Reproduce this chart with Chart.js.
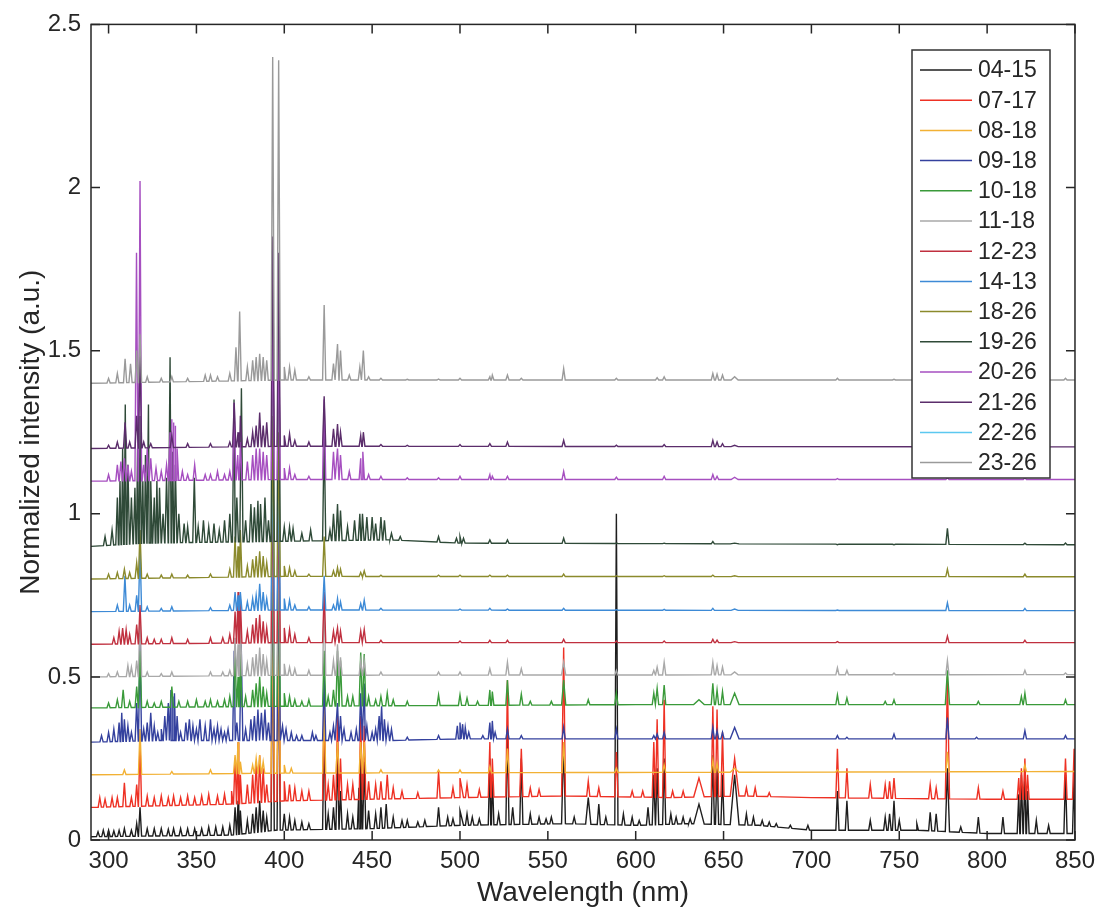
<!DOCTYPE html>
<html>
<head>
<meta charset="utf-8">
<script src="https://cdn.jsdelivr.net/npm/chart.js@4.4.0/dist/chart.umd.min.js"></script>
<style>
  html, body { margin: 0; background: #fff; }
  #wrap { width: 1102px; height: 912px; }
</style>
</head>
<body>
<div id="wrap"><canvas id="chart" width="1102" height="912"></canvas></div>
<script>
// ==============================
// DATA
// baseline points: [wavelength, value]
// peaks: [wavelength, top value, half width (nm, optional)]
// ==============================
const labels = ['04-15','07-17','08-18','09-18','10-18','11-18','12-23','14-13','18-26','19-26','20-26','21-26','22-26','23-26'];
const colors = ['#1e1e1e','#ee3124','#f2b134','#34419e','#3a9a3a','#a9a9a9','#c0303f','#3d8ad6','#8b8a2c','#2f4a38','#a64fc0','#5b2d6b','#5cc8f0','#9a9a9a'];
const xTicks = [300,350,400,450,500,550,600,650,700,750,800,850];
const yTicks = [0,0.5,1,1.5,2,2.5];

const base0415 = [[290,0.01],[370,0.015],[395,0.03],[450,0.035],[500,0.045],[560,0.05],[600,0.045],[630,0.05],[670,0.045],[700,0.03],[760,0.03],[800,0.02],[850,0.02]];
const peaks0415 = [[294,0.025],[297,0.03],[300,0.03],[303,0.028],[306,0.03],[309,0.035],[313,0.03],[316,0.05],[317.9,0.1],[322,0.035],[326,0.035],[330,0.035],[334,0.033],[337,0.035],[341,0.035],[345,0.035],[349,0.035],[353,0.035],[357,0.04],[361,0.04],[365,0.04],[369,0.045],[372,0.1],[373.7,0.12],[375,0.09],[379,0.06],[382,0.08],[384,0.1],[386,0.12],[388,0.09],[390,0.07],[393.4,0.75],[396.8,0.7],[400,0.08],[403,0.07],[406,0.06],[410,0.055],[414,0.05],[422.7,0.36],[425,0.08],[428,0.1],[430.3,0.28],[432,0.15],[436,0.08],[439,0.07],[442.5,0.16],[443.5,0.25],[445.5,0.24],[448,0.09],[452,0.08],[455,0.1],[458,0.11],[462,0.07],[467,0.06],[470,0.06],[476,0.055],[480,0.06],[487.8,0.1],[493,0.07],[496,0.065],[500,0.09,2],[504,0.08],[507,0.07],[511,0.065],[517,0.25],[518.4,0.2],[522,0.08],[527,0.34],[530,0.1],[534.9,0.25],[540,0.08],[545,0.07],[549,0.065],[552,0.07],[559,0.3,1.2],[565,0.07],[573,0.13,1.5],[579,0.11],[583,0.07],[589,1.0],[593,0.08],[598,0.07],[602,0.06],[607,0.1],[610.3,0.2],[612.2,0.22],[616.2,0.25],[620,0.08],[623,0.07],[627,0.07],[631,0.065],[636,0.11,3],[643.9,0.26],[646.3,0.22],[649.4,0.2],[656.3,0.2,2.5],[663,0.08],[667,0.07],[672,0.06],[676,0.055],[680,0.05],[688,0.045],[698,0.045],[714.8,0.15],[720.2,0.12],[733.5,0.06],[742,0.07],[744.5,0.08],[747,0.12],[750,0.06],[760,0.05],[767.6,0.085],[771,0.08],[777.4,0.22,1.2],[785,0.04],[795,0.07],[809,0.07],[818,0.14],[819.5,0.2],[821.5,0.21],[823,0.15],[828,0.06],[835,0.045],[844.6,0.2],[849.5,0.2]];

const base0717 = [[290,0.1],[370,0.11],[400,0.12],[500,0.13],[560,0.135],[620,0.13],[660,0.135],[700,0.13],[800,0.125],[850,0.125]];
const peaks0717 = [[295,0.13],[298,0.125],[302,0.13],[305,0.13],[309,0.175],[313,0.13],[316,0.17],[317.9,0.3],[322,0.135],[326,0.13],[330,0.135],[334,0.13],[337,0.135],[341,0.13],[345,0.135],[349,0.13],[353,0.135],[357,0.14],[362,0.135],[366,0.14],[370,0.15],[372,0.25],[373.7,0.3],[375,0.2],[379,0.17],[382,0.2],[384,0.24],[386,0.26],[388,0.22],[390,0.17],[393.4,0.8],[396.8,0.75],[400,0.18],[403,0.17],[406,0.16],[410,0.15],[414,0.15],[422.7,0.43],[425,0.17],[428,0.2],[430.3,0.38],[432,0.25],[436,0.17],[439,0.17],[443.5,0.38],[445.5,0.35],[448,0.18],[452,0.17],[455,0.18],[458.6,0.2],[462,0.16],[467,0.15],[476,0.145],[487.8,0.21],[496,0.16],[500,0.19,2],[504,0.17],[511,0.155],[517,0.3],[518.4,0.25],[527,0.49],[534.9,0.28],[540,0.16],[545,0.155],[559,0.59,1.2],[573,0.18],[579,0.16],[589,0.27],[598,0.15],[604,0.15],[610.3,0.3],[612.2,0.37],[616.2,0.43],[621,0.15],[627,0.15],[636,0.19,3],[643.9,0.41],[646.3,0.4],[649.4,0.33],[656.3,0.25,2.5],[663,0.16],[668,0.16],[676,0.145],[714.8,0.28],[720.2,0.22],[733.5,0.17],[742,0.17],[744.5,0.18],[747,0.19],[767.6,0.17],[771,0.16],[777.4,0.5,1.2],[795,0.16],[809,0.15],[818,0.19],[819.5,0.22],[821.5,0.25],[823,0.2],[844.6,0.25],[849.5,0.28]];

const base0818 = [[290,0.2],[400,0.205],[850,0.21]];
const peaks0818 = [[309,0.215],[317.9,0.34],[336,0.21],[358,0.215],[372,0.26],[373.7,0.3],[375,0.24],[382,0.23],[384,0.25],[386,0.26],[388,0.24],[393.4,0.7],[396.8,0.65],[400,0.23],[404,0.22],[422.7,0.4],[430.3,0.3],[443.5,0.3],[445.5,0.3],[455,0.215],[487.8,0.215],[500,0.215],[517,0.225],[527,0.28],[559,0.3],[589,0.22],[616.2,0.23],[643.9,0.245],[646.3,0.235],[656.3,0.22,2.5],[714.8,0.215],[777.4,0.27],[821.5,0.23]];

const base0918 = [[290,0.3],[330,0.305],[460,0.305],[500,0.31],[850,0.31]];
const peaks0918 = [[296,0.32],[300,0.33],[303,0.34],[306,0.36],[307.5,0.39],[309,0.37],[311,0.35],[313,0.33],[316,0.42],[317.9,0.6],[320,0.34],[322,0.36],[324,0.39],[326,0.35],[328,0.33],[330,0.34],[332,0.38],[334,0.42],[335.5,0.46],[336.5,0.44],[337.5,0.45],[339,0.38],[341,0.33],[344,0.36],[346,0.37],[348,0.35],[350,0.34],[352,0.37],[355,0.35],[358,0.37],[360,0.34],[362,0.35],[364,0.34],[366,0.33],[368,0.34],[371.5,0.58],[373,0.36],[375.5,0.6],[378,0.34],[381,0.37],[383,0.38],[385,0.4],[387,0.39],[389,0.4],[391,0.36],[393.4,0.95],[396.8,0.9],[399,0.35],[401,0.34],[404,0.33],[407,0.32],[410,0.32],[416,0.33],[418,0.32],[422.7,0.5],[426,0.33],[428,0.35],[430.3,0.42],[432,0.38],[434,0.34],[438,0.33],[441,0.34],[443.5,0.45],[445.5,0.48],[447,0.35],[450,0.33],[452,0.34],[454,0.38],[455.4,0.41],[457,0.37],[459,0.35],[461,0.34],[470,0.315],[487.8,0.32],[498.5,0.35],[500,0.36],[501.5,0.355],[503,0.345],[505,0.33],[513,0.32],[517,0.36],[518.4,0.365],[520,0.33],[527,0.34],[534.9,0.32],[559,0.345],[589,0.34],[610.3,0.32],[612.2,0.325],[616.2,0.33],[643.9,0.345],[646.3,0.335],[649.4,0.33],[656.3,0.345,2.5],[714.8,0.32],[720.2,0.315],[747,0.325],[777.4,0.375],[794,0.315],[821.5,0.335],[844.6,0.32]];

const base1018 = [[290,0.405],[400,0.41],[600,0.415],[850,0.415]];
const peaks1018 = [[300,0.42],[305,0.43],[308.3,0.46],[312,0.425],[316,0.47],[317.9,0.58],[322,0.425],[326,0.42],[330,0.425],[336,0.47],[340,0.425],[345,0.425],[350,0.43],[355,0.425],[358,0.43],[362,0.425],[366,0.43],[369,0.44],[372,0.58],[373.7,0.5],[375,0.57],[378,0.44],[382,0.46],[384,0.48],[386,0.5],[388,0.47],[390,0.45],[393.4,1.0],[396.8,0.95],[400,0.45],[403,0.44],[406,0.43],[410,0.425],[414,0.43],[422.7,0.58],[425,0.44],[428,0.46],[430.3,0.58],[432,0.55],[436,0.44],[439,0.44],[443.5,0.575],[445.5,0.57],[448,0.44],[452,0.43],[455,0.44],[458.6,0.45],[462,0.43],[470,0.425],[487.8,0.445],[500,0.445],[504,0.435],[510,0.425],[517,0.46],[518.4,0.455],[527,0.49],[534.9,0.447],[540,0.425],[552,0.425],[559,0.49,1.2],[573,0.43],[589,0.45],[610.3,0.45],[612.2,0.465],[616.2,0.475],[636,0.43,3],[643.9,0.48],[646.3,0.46],[649.4,0.455],[656.3,0.45,2.5],[714.8,0.445],[720.2,0.435],[742,0.425],[747,0.43],[777.4,0.52,1.2],[795,0.425],[819.5,0.44],[821.5,0.45],[844.6,0.43]];

const base1118 = [[290,0.5],[400,0.505],[850,0.507]];
const peaks1118 = [[300,0.51],[305,0.515],[311,0.535],[313,0.53],[316,0.55],[317.9,0.7],[322,0.515],[330,0.51],[336,0.515],[358,0.515],[365,0.515],[369,0.52],[372,0.62],[373.7,0.6],[375,0.68],[379,0.54],[382,0.56],[384,0.57],[386,0.59],[388,0.57],[390,0.55],[393.4,1.05],[396.8,1.0],[400,0.54],[403,0.53],[406,0.525],[414,0.52],[422.7,0.75],[428,0.55],[430.3,0.6],[432,0.56],[443.5,0.55],[445.5,0.55],[455,0.515],[487.8,0.515],[500,0.515],[517,0.525],[527,0.545],[534.9,0.525],[559,0.545,1.2],[589,0.52],[610.3,0.52],[612.2,0.53],[616.2,0.545],[643.9,0.545],[646.3,0.535],[649.4,0.53],[656.3,0.515,2],[714.8,0.528],[720.2,0.52],[747,0.512],[777.4,0.55],[821.5,0.52],[844.6,0.512]];

const base1223 = [[290,0.6],[400,0.605],[850,0.605]];
const peaks1223 = [[303,0.62],[306,0.64],[308,0.65],[310,0.645],[312,0.63],[316,0.66],[317.9,0.72],[322,0.62],[326,0.615],[330,0.615],[336,0.62],[345,0.615],[358,0.62],[365,0.62],[369,0.63],[372,0.7],[373.7,0.76],[375,0.74],[379,0.64],[382,0.66],[384,0.68],[386,0.69],[388,0.67],[390,0.65],[393.4,1.1],[396.8,1.05],[400,0.65],[403,0.645],[406,0.63],[414,0.62],[422.7,0.76],[428,0.64],[430.3,0.65],[432,0.64],[443.5,0.64],[445.5,0.645],[455,0.612],[500,0.61],[517,0.612],[527,0.612],[559,0.615],[589,0.61],[616.2,0.61],[643.9,0.615],[646.3,0.613],[656.3,0.608,2],[714.8,0.608],[777.4,0.625],[821.5,0.612]];

const base1413 = [[290,0.7],[400,0.705],[850,0.703]];
const peaks1413 = [[305,0.72],[309.3,0.81],[312,0.72],[316,0.75],[317.9,0.9],[322,0.715],[330,0.71],[336,0.715],[358,0.712],[369,0.72],[372,0.76],[373.7,0.75],[375,0.76],[379,0.73],[382,0.74],[384,0.75],[386,0.785],[388,0.76],[390,0.74],[393.4,1.2],[396.8,1.15],[400,0.74],[403,0.735],[406,0.72],[414,0.715],[422.7,0.81],[428,0.72],[430.3,0.74],[432,0.73],[443.5,0.725],[445.5,0.735],[455,0.71],[500,0.708],[517,0.71],[527,0.708],[559,0.71],[589,0.706],[616.2,0.707],[643.9,0.71],[656.3,0.708,2],[714.8,0.705],[777.4,0.727],[821.5,0.71]];

const base1826 = [[290,0.8],[400,0.808],[850,0.807]];
const peaks1826 = [[300,0.815],[305,0.82],[309,0.83],[312,0.82],[316,0.85],[317.9,0.95],[322,0.815],[330,0.812],[336,0.815],[345,0.812],[358,0.815],[369,0.83],[372,0.93],[373.7,0.9],[375,0.95],[379,0.84],[382,0.86],[384,0.87],[386,0.885],[388,0.87],[390,0.85],[393.4,1.3],[396.8,1.25],[400,0.84],[403,0.835],[406,0.825],[414,0.815],[422.7,0.93],[428,0.825],[430.3,0.835],[432,0.83],[443.5,0.82],[445.5,0.825],[455,0.812],[487.8,0.812],[500,0.812],[517,0.812],[527,0.812],[559,0.815],[589,0.81],[616.2,0.81],[643.9,0.812],[656.3,0.81,2],[777.4,0.83],[821.5,0.815]];

const base1926 = [[290,0.9],[320,0.91],[460,0.92],[500,0.91],[850,0.905]];
const peaks1926 = [[298,0.93],[302,0.95],[305,1.05],[306.5,1.1],[308,1.2],[309.5,1.335],[311,1.15],[313,1.05],[315,1.08],[316.5,1.2],[317.9,1.3],[319.5,1.1],[321,1.18],[322.7,1.335],[324,1.1],[326,1.05],[327.5,1.1],[329,1.08],[331,1.0],[333,1.11],[335,1.48],[336.5,1.19],[338,1.15],[340,1.0],[343,0.97],[345,0.96],[348.8,1.11],[351,0.96],[354,0.98],[357,0.96],[360,0.97],[363,0.95],[366,0.98],[369,1.0],[371.4,1.35],[373,1.05],[375.6,1.385],[378,0.98],[381,1.03],[383,1.02],[385,1.04],[386.5,1.03],[389,1.05],[391,0.98],[393.4,1.7],[396.8,1.65],[400,0.96],[403,0.96],[405,0.955],[410,0.94],[415,0.95],[422.7,1.25],[426,0.95],[428,1.0],[430.3,1.03],[432,1.01],[436,0.96],[440,0.98],[443,1.0],[444.5,1.0],[447,0.99],[450,0.99],[452,0.97],[455,0.99],[457,0.98],[461,0.94],[466,0.93],[487.8,0.93],[498,0.925],[500,0.93],[502,0.925],[517,0.92],[527,0.92],[559,0.925],[589,0.91],[616.2,0.91],[643.9,0.915],[656.3,0.91,2.5],[714.8,0.905],[747,0.905],[777.4,0.955],[821.5,0.91],[844.6,0.91]];

const base2026 = [[290,1.1],[400,1.105],[850,1.105]];
const peaks2026 = [[300,1.12],[305,1.15],[307,1.16],[309,1.17],[311,1.15],[313,1.13],[315.9,1.8],[317.9,2.02],[320,1.15],[322,1.2],[324,1.17],[327,1.14],[330,1.13],[333,1.15],[335,1.25],[336,1.29],[337,1.28],[338,1.27],[339,1.2],[342,1.13],[345,1.12],[349,1.15],[355,1.12],[358,1.12],[362,1.13],[366,1.12],[369,1.13],[371.5,1.34],[373.5,1.18],[375,1.22],[379,1.16],[382,1.18],[384,1.2],[386,1.2],[388,1.19],[390,1.18],[393.4,1.6],[396.8,1.55],[400,1.14],[403,1.14],[406,1.12],[414,1.115],[422.7,1.35],[428,1.19],[430.3,1.2],[432,1.18],[437,1.13],[443.5,1.17],[444.7,1.19],[448,1.12],[455,1.115],[470,1.11],[487.8,1.11],[500,1.115],[517,1.12],[518.4,1.115],[527,1.115],[559,1.13],[589,1.112],[616.2,1.115],[643.9,1.12],[646.3,1.115],[656.3,1.112,2],[714.8,1.108],[777.4,1.11],[821.5,1.11]];

const base2126 = [[290,1.2],[400,1.207],[850,1.205]];
const peaks2126 = [[300,1.21],[305,1.22],[309.4,1.28],[312,1.22],[316,1.3],[317.9,1.5],[320,1.22],[324,1.215],[336,1.24],[345,1.215],[358,1.215],[369,1.22],[371.5,1.34],[373.7,1.25],[375,1.3],[379,1.23],[382,1.25],[384,1.27],[386,1.31],[388,1.27],[390,1.28],[393.4,1.85],[396.8,1.8],[400,1.24],[403,1.245],[406,1.225],[414,1.22],[422.7,1.36],[428,1.26],[430.3,1.275],[432,1.25],[443.5,1.24],[445,1.25],[455,1.212],[470,1.21],[500,1.212],[517,1.215],[527,1.22],[559,1.225],[589,1.21],[616.2,1.212],[643.9,1.225],[646.3,1.22],[649.4,1.215],[656.3,1.21,2],[777.4,1.212],[821.5,1.21]];

// 22-26 is in the legend but no trace is visible in the figure
const base2226 = [];
const peaks2226 = [];

const base2326 = [[290,1.4],[400,1.41],[850,1.41]];
const peaks2326 = [[300,1.415],[305,1.43],[309.4,1.475],[312.5,1.46],[316,1.5],[317.9,1.55],[322,1.42],[330,1.415],[336,1.42],[345,1.415],[355,1.425],[358,1.425],[362,1.42],[369,1.43],[372.5,1.51],[374.6,1.62],[379,1.45],[382,1.47],[384,1.48],[386,1.49],[388,1.48],[390,1.47],[393.4,2.4],[396.8,2.39],[400,1.45],[403,1.45],[406,1.44],[414,1.42],[422.7,1.64],[428,1.46],[430.3,1.52],[432,1.5],[437,1.425],[443,1.45],[445,1.5],[448,1.42],[455,1.415],[470,1.412],[487.8,1.413],[500,1.415],[517,1.42],[518.4,1.425],[527,1.425],[534.9,1.415],[559,1.445],[589,1.415],[612.2,1.417],[616.2,1.42],[643.9,1.43],[646.3,1.428],[649.4,1.425],[656.3,1.42,2],[714.8,1.415],[747,1.412],[777.4,1.415],[821.5,1.413],[844.6,1.415]];

const bases = [base0415,base0717,base0818,base0918,base1018,base1118,base1223,base1413,base1826,base1926,base2026,base2126,base2226,base2326];
const peaks = [peaks0415,peaks0717,peaks0818,peaks0918,peaks1018,peaks1118,peaks1223,peaks1413,peaks1826,peaks1926,peaks2026,peaks2126,peaks2226,peaks2326];

// ==============================
// BUILD POINTS (peak apex + feet on the read baseline)
// ==============================
function baseAt(base, w) {
  for (let i = 1; i < base.length; i++) {
    if (w <= base[i][0]) {
      const a = base[i - 1], b = base[i];
      return a[1] + (b[1] - a[1]) * (w - a[0]) / (b[0] - a[0]);
    }
  }
  return base[base.length - 1][1];
}

function buildSeries(base, pk) {
  const pts = base.map(p => ({ x: p[0], y: p[1] }));
  pk.forEach(p => {
    const hw = p[2] || 0.9;
    pts.push({ x: p[0] - hw, y: baseAt(base, p[0] - hw) });
    pts.push({ x: p[0], y: p[1] });
    pts.push({ x: p[0] + hw, y: baseAt(base, p[0] + hw) });
  });
  return pts.sort((a, b) => a.x - b.x);
}

const FONT = "'Liberation Sans', Arial, Helvetica, sans-serif";
const INK = '#262626';

// ==============================
// FRAME, INNER TICKS, LEGEND
// ==============================
const framePlugin = {
  id: 'frame',
  afterDatasetsDraw(chart) {
    const { ctx, chartArea: a, scales: { x, y } } = chart;
    ctx.save();
    ctx.strokeStyle = INK;
    ctx.lineWidth = 1.5;
    ctx.strokeRect(a.left, a.top, a.right - a.left, a.bottom - a.top);
    ctx.beginPath();
    xTicks.forEach(v => {
      const px = x.getPixelForValue(v);
      ctx.moveTo(px, a.bottom); ctx.lineTo(px, a.bottom - 9);
      ctx.moveTo(px, a.top); ctx.lineTo(px, a.top + 9);
    });
    yTicks.forEach(v => {
      const py = y.getPixelForValue(v);
      ctx.moveTo(a.left, py); ctx.lineTo(a.left + 9, py);
      ctx.moveTo(a.right, py); ctx.lineTo(a.right - 9, py);
    });
    ctx.stroke();

    // legend box (top right, inside the axes)
    const lx = 912, ly = 50, lw = 138, lh = 428;
    ctx.fillStyle = '#fff';
    ctx.fillRect(lx, ly, lw, lh);
    ctx.lineWidth = 1.5;
    ctx.strokeStyle = '#333';
    ctx.strokeRect(lx, ly, lw, lh);
    ctx.font = '23px ' + FONT;
    ctx.textBaseline = 'middle';
    ctx.textAlign = 'left';
    labels.forEach((lab, i) => {
      const cy = ly + 20 + i * 30.2;
      ctx.strokeStyle = colors[i];
      ctx.lineWidth = 1.5;
      ctx.beginPath();
      ctx.moveTo(lx + 8, cy); ctx.lineTo(lx + 60, cy);
      ctx.stroke();
      ctx.fillStyle = INK;
      ctx.fillText(lab, lx + 66, cy + 1);
    });
    ctx.restore();
  }
};

const datasets = labels.map((lab, i) => ({
  label: lab,
  data: buildSeries(bases[i], peaks[i]),
  borderColor: colors[i],
  borderWidth: 1.4,
  pointRadius: 0,
  tension: 0,
  fill: false,
  order: -i
}));

new Chart(document.getElementById('chart'), {
  type: 'line',
  data: { datasets },
  plugins: [framePlugin],
  options: {
    responsive: false,
    animation: false,
    layout: { padding: { left: 0, top: 22, right: 25, bottom: 0 } },
    plugins: { legend: { display: false }, tooltip: { enabled: false } },
    scales: {
      x: {
        type: 'linear',
        min: 290,
        max: 850,
        afterBuildTicks: s => { s.ticks = xTicks.map(v => ({ value: v })); },
        afterFit: s => { s.height = 72; },
        grid: { display: false, drawTicks: false },
        border: { display: false },
        ticks: { color: INK, font: { family: FONT, size: 24 }, padding: 7, maxRotation: 0, callback: v => String(v) },
        title: { display: true, text: 'Wavelength (nm)', color: INK, font: { family: FONT, size: 28 }, padding: { top: 0, bottom: 2 } }
      },
      y: {
        type: 'linear',
        min: 0,
        max: 2.5,
        afterBuildTicks: s => { s.ticks = yTicks.map(v => ({ value: v })); },
        afterFit: s => { s.width = 91; },
        grid: { display: false, drawTicks: false },
        border: { display: false },
        ticks: { color: INK, font: { family: FONT, size: 24 }, padding: 10, callback: v => String(v) },
        title: { display: true, text: 'Normalized intensity (a.u.)', color: INK, font: { family: FONT, size: 28 }, padding: { top: 14, bottom: 0 } }
      }
    }
  }
});
</script>
</body>
</html>
